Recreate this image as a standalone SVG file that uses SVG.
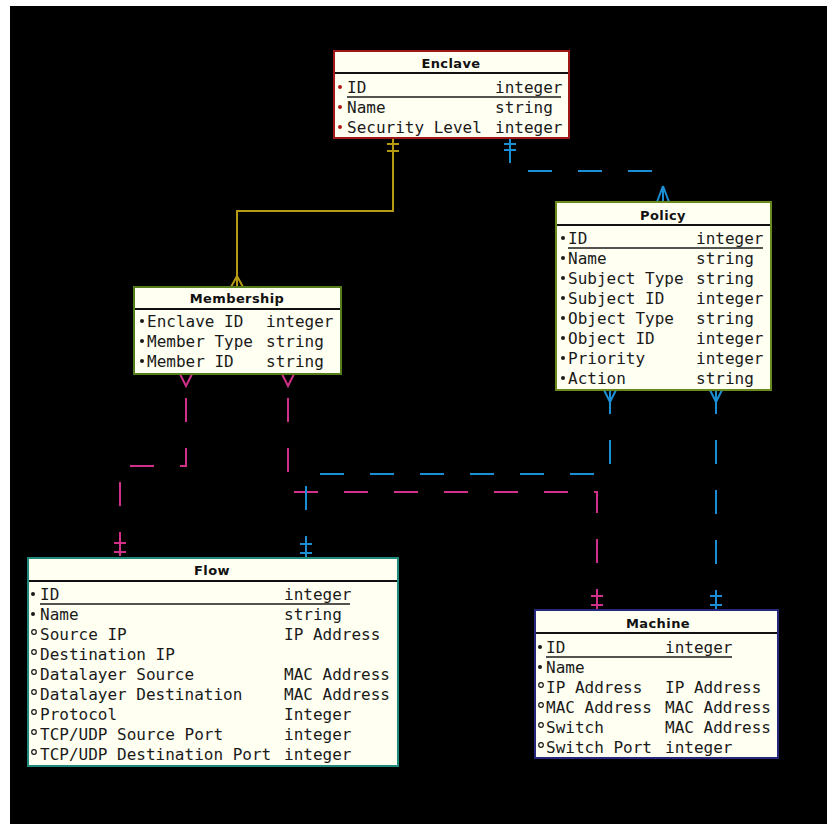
<svg xmlns="http://www.w3.org/2000/svg" width="827" height="824" viewBox="0 0 827 824">
<style>
.box{fill:#fffff2;stroke-width:2}
.hl{stroke:#111;stroke-width:2}
.title{font-family:"DejaVu Sans","Liberation Sans",sans-serif;font-weight:bold;font-size:13px;fill:#111;text-anchor:middle;letter-spacing:0.4px}
.at{font-family:"DejaVu Sans Mono","Liberation Mono",monospace;font-size:16px;fill:#1a1a1a}
.ul{stroke:#1a1a1a;stroke-width:1.3}
.req{fill:#1a1a1a}
.opt{fill:none;stroke:#1a1a1a;stroke-width:1.2}
.con{fill:none;stroke-width:2}
.dash{stroke-dasharray:24 26}
.gold{stroke:#b59a12}
.blue{stroke:#1b8fd4}
.mag{stroke:#d02f8a}
</style>
<rect x="0" y="0" width="827" height="824" fill="#ffffff"/>
<rect x="10" y="6" width="817" height="818" fill="#000000"/>

<g id="connectors">
  <!-- Enclave - Membership -->
  <path class="con gold" d="M393,139 V211 H237 V287"/>
  <path class="con gold" d="M387,144 H399 M387,151 H399 M237,276 L231,287 M237,276 L243,287"/>
  <!-- Enclave - Policy -->
  <path class="con blue dash" d="M510,139 V171 H663 V202"/>
  <path class="con blue" d="M504,144 H516 M504,150 H516 M663,186 L657,202 M663,186 L669,202 M663,186 V202"/>
  <!-- Membership - Flow -->
  <path class="con mag dash" stroke-dashoffset="26" d="M186,374 V466 H120 V558"/>
  <path class="con mag" d="M180,374 L186,386 L192,374 M114,543 H126 M114,552 H126"/>
  <!-- Membership - Machine -->
  <path class="con mag dash" stroke-dashoffset="26" d="M288,374 V492 H597 V610"/>
  <path class="con mag" d="M282,374 L288,386 L294,374 M591,596 H603 M591,605 H603"/>
  <!-- Policy - Flow -->
  <path class="con blue dash" d="M610,390 V474 H306 V558"/>
  <path class="con blue" d="M604,390 L610,402 L616,390 M300,544 H312 M300,553 H312"/>
  <!-- Policy - Machine -->
  <path class="con blue dash" d="M716,390 V610"/>
  <path class="con blue" d="M710,390 L716,402 L722,390 M710,596 H722 M710,605 H722"/>
</g>

<g id="enclave">
  <rect class="box" x="334" y="51" width="235" height="87" stroke="#a01818"/>
  <line class="hl" x1="335" y1="73" x2="568" y2="73"/>
  <text class="title" x="451" y="68">Enclave</text>
  <circle cx="340" cy="87" r="2" fill="#b01818"/>
  <circle cx="340" cy="107" r="2" fill="#b01818"/>
  <circle cx="340" cy="127" r="2" fill="#b01818"/>
  <text class="at" x="347" y="93">ID</text><text class="at" x="495" y="93">integer</text>
  <line class="ul" x1="347" y1="97" x2="561" y2="97"/>
  <text class="at" x="347" y="113">Name</text><text class="at" x="495" y="113">string</text>
  <text class="at" x="347" y="133">Security Level</text><text class="at" x="495" y="133">integer</text>
</g>

<g id="policy">
  <rect class="box" x="556" y="202" width="215" height="188" stroke="#6a8a1e"/>
  <line class="hl" x1="557" y1="225" x2="770" y2="225"/>
  <text class="title" x="663" y="220">Policy</text>
  <g class="req">
    <circle cx="563" cy="238" r="2"/><circle cx="563" cy="258" r="2"/><circle cx="563" cy="278" r="2"/><circle cx="563" cy="298" r="2"/>
    <circle cx="563" cy="318" r="2"/><circle cx="563" cy="338" r="2"/><circle cx="563" cy="358" r="2"/><circle cx="563" cy="378" r="2"/>
  </g>
  <text class="at" x="568" y="244">ID</text><text class="at" x="696" y="244">integer</text>
  <line class="ul" x1="568" y1="248" x2="763" y2="248"/>
  <text class="at" x="568" y="264">Name</text><text class="at" x="696" y="264">string</text>
  <text class="at" x="568" y="284">Subject Type</text><text class="at" x="696" y="284">string</text>
  <text class="at" x="568" y="304">Subject ID</text><text class="at" x="696" y="304">integer</text>
  <text class="at" x="568" y="324">Object Type</text><text class="at" x="696" y="324">string</text>
  <text class="at" x="568" y="344">Object ID</text><text class="at" x="696" y="344">integer</text>
  <text class="at" x="568" y="364">Priority</text><text class="at" x="696" y="364">integer</text>
  <text class="at" x="568" y="384">Action</text><text class="at" x="696" y="384">string</text>
</g>

<g id="membership">
  <rect class="box" x="134" y="287" width="207" height="87" stroke="#557d1c"/>
  <line class="hl" x1="135" y1="309" x2="340" y2="309"/>
  <text class="title" x="237" y="303">Membership</text>
  <g class="req">
    <circle cx="142" cy="321" r="2"/><circle cx="142" cy="341" r="2"/><circle cx="142" cy="361" r="2"/>
  </g>
  <text class="at" x="147" y="327">Enclave ID</text><text class="at" x="266" y="327">integer</text>
  <text class="at" x="147" y="347">Member Type</text><text class="at" x="266" y="347">string</text>
  <text class="at" x="147" y="367">Member ID</text><text class="at" x="266" y="367">string</text>
</g>

<g id="flow">
  <rect class="box" x="28" y="558" width="370" height="208" stroke="#1f8a7c"/>
  <line class="hl" x1="29" y1="581" x2="397" y2="581"/>
  <text class="title" x="212" y="575">Flow</text>
  <g class="req"><circle cx="33" cy="594" r="2"/><circle cx="33" cy="614" r="2"/></g>
  <g class="opt">
    <circle cx="34" cy="632" r="2.3"/><circle cx="34" cy="652" r="2.3"/><circle cx="34" cy="672" r="2.3"/>
    <circle cx="34" cy="692" r="2.3"/><circle cx="34" cy="712" r="2.3"/><circle cx="34" cy="732" r="2.3"/><circle cx="34" cy="752" r="2.3"/>
  </g>
  <text class="at" x="40" y="600">ID</text><text class="at" x="284" y="600">integer</text>
  <line class="ul" x1="40" y1="604" x2="350" y2="604"/>
  <text class="at" x="40" y="620">Name</text><text class="at" x="284" y="620">string</text>
  <text class="at" x="40" y="640">Source IP</text><text class="at" x="284" y="640">IP Address</text>
  <text class="at" x="40" y="660">Destination IP</text>
  <text class="at" x="40" y="680">Datalayer Source</text><text class="at" x="284" y="680">MAC Address</text>
  <text class="at" x="40" y="700">Datalayer Destination</text><text class="at" x="284" y="700">MAC Address</text>
  <text class="at" x="40" y="720">Protocol</text><text class="at" x="284" y="720">Integer</text>
  <text class="at" x="40" y="740">TCP/UDP Source Port</text><text class="at" x="284" y="740">integer</text>
  <text class="at" x="40" y="760">TCP/UDP Destination Port</text><text class="at" x="284" y="760">integer</text>
</g>

<g id="machine">
  <rect class="box" x="535" y="610" width="243" height="148" stroke="#26287e"/>
  <line class="hl" x1="536" y1="633" x2="777" y2="633"/>
  <text class="title" x="658" y="628">Machine</text>
  <g class="req"><circle cx="540" cy="647" r="2"/><circle cx="540" cy="667" r="2"/></g>
  <g class="opt">
    <circle cx="541" cy="685" r="2.3"/><circle cx="541" cy="705" r="2.3"/><circle cx="541" cy="725" r="2.3"/><circle cx="541" cy="745" r="2.3"/>
  </g>
  <text class="at" x="546" y="653">ID</text><text class="at" x="665" y="653">integer</text>
  <line class="ul" x1="546" y1="657" x2="732" y2="657"/>
  <text class="at" x="546" y="673">Name</text>
  <text class="at" x="546" y="693">IP Address</text><text class="at" x="665" y="693">IP Address</text>
  <text class="at" x="546" y="713">MAC Address</text><text class="at" x="665" y="713">MAC Address</text>
  <text class="at" x="546" y="733">Switch</text><text class="at" x="665" y="733">MAC Address</text>
  <text class="at" x="546" y="753">Switch Port</text><text class="at" x="665" y="753">integer</text>
</g>
</svg>
